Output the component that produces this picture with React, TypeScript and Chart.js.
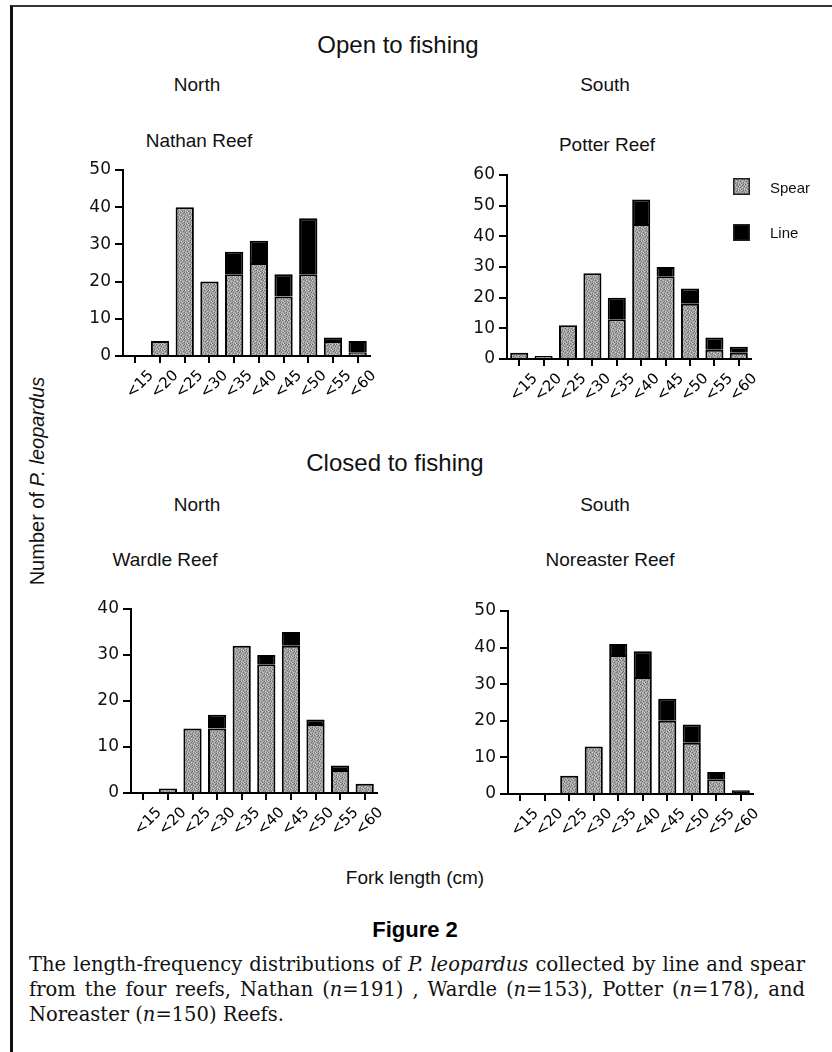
import React, { useEffect, useRef } from "react";
import { Chart, registerables } from "chart.js";

Chart.register(...registerables);

// ---------- data ----------
const categories = ["<15", "<20", "<25", "<30", "<35", "<40", "<45", "<50", "<55", "<60"];

const nathanSpear = [0, 4, 40, 20, 22, 25, 16, 22, 4, 1];
const nathanLine = [0, 0, 0, 0, 6, 6, 6, 15, 1, 3];

const potterSpear = [2, 1, 11, 28, 13, 44, 27, 18, 3, 2];
const potterLine = [0, 0, 0, 0, 7, 8, 3, 5, 4, 2];

const wardleSpear = [0, 1, 14, 14, 32, 28, 32, 15, 5, 2];
const wardleLine = [0, 0, 0, 3, 0, 2, 3, 1, 1, 0];

const noreasterSpear = [0, 0, 5, 13, 38, 32, 20, 14, 4, 0];
const noreasterLine = [0, 0, 0, 0, 3, 7, 6, 5, 2, 1];

const nathanMax = 50;
const potterMax = 60;
const wardleMax = 40;
const noreasterMax = 50;
const tickStep = 10;

const seriesNames = ["Spear", "Line"];

// ---------- layout constants ----------
const Y_W = 63;
const PAD_T = 12;
const PAD_R = 12;
const X_H = 60;

function makePattern(ctx: CanvasRenderingContext2D) {
  const c = document.createElement("canvas");
  c.width = 6;
  c.height = 6;
  const g = c.getContext("2d")!;
  g.fillStyle = "#a2a2a2";
  g.fillRect(0, 0, 6, 6);
  g.fillStyle = "#6e6e6e";
  [[0, 0], [3, 1], [5, 2], [1, 3], [4, 4], [2, 5], [4, 0]].forEach(([x, y]) => g.fillRect(x, y, 1, 1));
  g.fillStyle = "#cdcdcd";
  [[2, 0], [5, 0], [0, 2], [3, 3], [1, 5], [5, 4]].forEach(([x, y]) => g.fillRect(x, y, 1, 1));
  return ctx.createPattern(c, "repeat");
}

type Area = { left: number; right: number; top: number; bottom: number };

function ReefChart({ spear, line, yMax, area }: { spear: number[]; line: number[]; yMax: number; area: Area }) {
  const ref = useRef<HTMLCanvasElement>(null);
  const left = area.left - Y_W;
  const top = area.top - PAD_T;
  const width = area.right - left + PAD_R;
  const height = area.bottom - top + X_H;

  useEffect(() => {
    const ctx = ref.current!.getContext("2d")!;
    const pattern = makePattern(ctx);
    const chart = new Chart(ctx, {
      type: "bar",
      data: {
        labels: categories,
        datasets: [
          {
            label: seriesNames[0],
            data: spear,
            backgroundColor: pattern as any,
            borderColor: "#000",
            borderWidth: 2,
          },
          {
            label: seriesNames[1],
            data: line,
            backgroundColor: "#000",
            borderColor: "#000",
            borderWidth: 2,
          },
        ],
      },
      options: {
        responsive: false,
        animation: false,
        devicePixelRatio: 1,
        layout: { padding: { top: PAD_T, right: PAD_R, left: 0, bottom: 0 } },
        plugins: {
          legend: { display: false },
          tooltip: { enabled: false },
        },
        datasets: { bar: { barPercentage: 0.74, categoryPercentage: 1 } },
        scales: {
          x: {
            stacked: true,
            offset: true,
            grid: {
              display: true,
              drawOnChartArea: false,
              drawTicks: true,
              tickLength: 7,
              color: "#000",
              lineWidth: 2,
              offset: false,
            },
            border: { display: true, color: "#000", width: 2 },
            ticks: {
              autoSkip: false,
              minRotation: 45,
              maxRotation: 45,
              labelOffset: 16,
              padding: 4,
              color: "#000",
              font: { family: "DejaVu Sans", size: 15 },
            },
            afterFit: (s: any) => {
              s.height = X_H;
              s.paddingLeft = 0;
              s.paddingRight = 0;
            },
          },
          y: {
            stacked: true,
            min: 0,
            max: yMax,
            grid: {
              display: true,
              drawOnChartArea: false,
              drawTicks: true,
              tickLength: 8,
              color: "#000",
              lineWidth: 2,
            },
            border: { display: true, color: "#000", width: 2 },
            ticks: {
              stepSize: tickStep,
              padding: 4,
              color: "#111",
              font: { family: "DejaVu Sans", size: 17 },
            },
            afterFit: (s: any) => {
              s.width = Y_W;
              s.paddingTop = 0;
              s.paddingBottom = 0;
            },
          },
        },
      },
    });
    return () => chart.destroy();
  }, []);

  return (
    <canvas
      ref={ref}
      width={width}
      height={height}
      style={{ position: "absolute", left, top, width, height }}
    />
  );
}

const sans = "'Liberation Sans', Arial, sans-serif";

function Label({ x, y, size, children, style }: any) {
  return (
    <div
      style={{
        position: "absolute",
        left: x,
        top: y,
        transform: "translate(-50%, -50%)",
        whiteSpace: "nowrap",
        fontFamily: sans,
        fontSize: size,
        color: "#111",
        ...style,
      }}
    >
      {children}
    </div>
  );
}

function LegendSwatch({ x, y, dark }: { x: number; y: number; dark: boolean }) {
  const ref = useRef<HTMLCanvasElement>(null);
  useEffect(() => {
    const ctx = ref.current!.getContext("2d")!;
    ctx.fillStyle = dark ? "#000" : (makePattern(ctx) as any);
    ctx.fillRect(0, 0, 17, 17);
    ctx.strokeStyle = "#222";
    ctx.lineWidth = 1.5;
    ctx.strokeRect(0.75, 0.75, 15.5, 15.5);
  }, []);
  return <canvas ref={ref} width={17} height={17} style={{ position: "absolute", left: x, top: y, width: 17, height: 17 }} />;
}

export default function App() {
  const capLine: React.CSSProperties = {
    textAlign: "justify",
    textAlignLast: "justify" as any,
    height: 25,
    lineHeight: "25px",
    whiteSpace: "nowrap",
  };
  return (
    <div style={{ position: "absolute", left: 0, top: 0, width: 832, height: 1052, background: "#fff", overflow: "hidden" }}>
      {/* frame */}
      <div
        style={{
          position: "absolute",
          left: 10,
          top: 5,
          width: 822,
          height: 1047,
          boxSizing: "border-box",
          borderLeft: "3px solid #111",
          borderTop: "2px solid #333",
        }}
      />

      <Label x={398} y={45} size={24}>Open to fishing</Label>
      <Label x={197} y={85} size={19}>North</Label>
      <Label x={605} y={85} size={19}>South</Label>
      <Label x={199} y={141} size={19}>Nathan Reef</Label>
      <Label x={607} y={145} size={19}>Potter Reef</Label>

      <Label x={395} y={463} size={24}>Closed to fishing</Label>
      <Label x={197} y={505} size={19}>North</Label>
      <Label x={605} y={505} size={19}>South</Label>
      <Label x={165} y={560} size={19}>Wardle Reef</Label>
      <Label x={610} y={560} size={19}>Noreaster Reef</Label>

      <Label x={37} y={481} size={20} style={{ transform: "translate(-50%, -50%) rotate(-90deg)" }}>
        Number of <i>P. leopardus</i>
      </Label>
      <Label x={415} y={878} size={19}>Fork length (cm)</Label>

      <ReefChart spear={nathanSpear} line={nathanLine} yMax={nathanMax} area={{ left: 123, right: 370, top: 170, bottom: 356 }} />
      <ReefChart spear={potterSpear} line={potterLine} yMax={potterMax} area={{ left: 507, right: 751, top: 175, bottom: 359 }} />
      <ReefChart spear={wardleSpear} line={wardleLine} yMax={wardleMax} area={{ left: 131, right: 377, top: 609, bottom: 793 }} />
      <ReefChart spear={noreasterSpear} line={noreasterLine} yMax={noreasterMax} area={{ left: 508, right: 753, top: 611, bottom: 794 }} />

      {/* legend */}
      <LegendSwatch x={733} y={178} dark={false} />
      <Label x={770} y={187} size={15} style={{ transform: "translate(0, -50%)" }}>{seriesNames[0]}</Label>
      <LegendSwatch x={733} y={224} dark={true} />
      <Label x={770} y={232} size={15} style={{ transform: "translate(0, -50%)" }}>{seriesNames[1]}</Label>

      {/* caption */}
      <Label x={415} y={930} size={22} style={{ fontFamily: "'Liberation Sans Narrow', 'Liberation Sans', Arial, sans-serif", fontWeight: "bold", color: "#000" }}>
        Figure 2
      </Label>
      <div
        style={{
          position: "absolute",
          left: 29,
          top: 952,
          width: 776,
          fontFamily: "'DejaVu Serif', serif",
          fontSize: 19.5,
          color: "#111",
        }}
      >
        <div style={capLine}>
          The length-frequency distributions of <i>P. leopardus</i> collected by line and spear
        </div>
        <div style={capLine}>
          from the four reefs, Nathan (<i>n</i>=191) , Wardle (<i>n</i>=153), Potter (<i>n</i>=178), and
        </div>
        <div style={{ ...capLine, textAlignLast: "left" as any }}>
          Noreaster (<i>n</i>=150) Reefs.
        </div>
      </div>
    </div>
  );
}
